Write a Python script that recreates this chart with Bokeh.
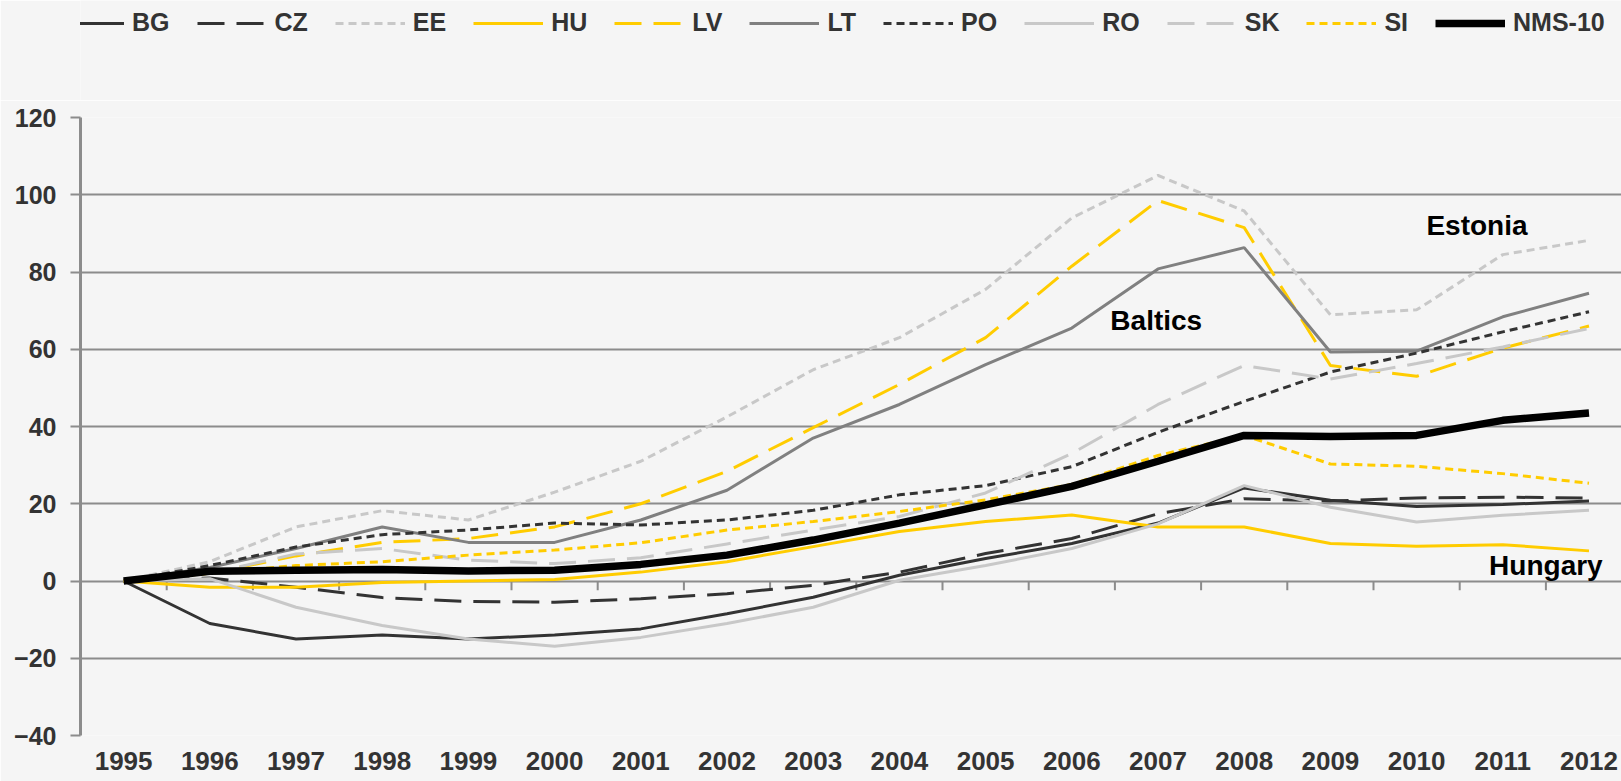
from bokeh.plotting import figure
from bokeh.layouts import column
from bokeh.models import (Range1d, FixedTicker, Legend, LegendItem, Label)
from bokeh.embed import file_html
from bokeh.resources import INLINE

years = list(range(1995, 2013))
BG = [0, -11, -15, -14, -15, -14, -12.4, -8.5, -4.2, 1.5, 5.8, 9.7, 15, 24.1, 20.9, 19.3, 19.8, 20.7]
CZ = [0, 0.8, -1.6, -4.3, -5.3, -5.5, -4.6, -3.3, -1.1, 2.3, 7.1, 11, 17.4, 21.3, 20.7, 21.5, 21.7, 21.5]
EE = [0, 5, 14, 18.2, 15.8, 23, 31, 42.5, 54.7, 63, 75.5, 94, 105, 95.8, 68.9, 70.2, 84.5, 88.2]
HU = [0, -1.6, -1.6, -0.4, 0, 0.4, 2.3, 5, 8.9, 12.8, 15.4, 17.1, 14, 14, 9.7, 9, 9.4, 7.8]
LV = [0, 2, 6.5, 10, 11, 14, 20, 28.4, 39.7, 50.9, 63, 81.5, 98.5, 91.5, 55.8, 53, 60.3, 66]
LT = [0, 3.5, 8.4, 14, 10, 10, 15.8, 23.5, 37, 45.7, 56, 65.5, 80.8, 86.3, 59.3, 59.5, 68.4, 74.5]
PO = [0, 4, 8.8, 12, 13.2, 15, 14.5, 15.8, 18.3, 22.3, 24.7, 29.6, 38.5, 46.5, 54.1, 59, 64.5, 69.7]
RO = [0, 0.6, -6.8, -11.5, -15, -16.9, -14.6, -11, -6.8, 0.2, 4, 8.4, 14.8, 24.7, 19.1, 15.3, 17, 18.3]
SK = [0, 2, 7, 8.4, 5.4, 4.5, 6, 9.6, 13.2, 16.7, 22.8, 33, 45.7, 55.8, 52.3, 56.3, 60.6, 65.4]
SI = [0, 2, 4, 5, 6.7, 8, 9.9, 13.2, 15.4, 18, 21, 25, 32.5, 37.7, 30.3, 29.7, 27.8, 25.3]
NMS10 = [0, 2.5, 2.8, 3, 2.6, 2.8, 4.3, 6.7, 10.6, 15, 19.7, 24.5, 31, 37.7, 37.4, 37.7, 41.6, 43.5]

y_ticks = [-40, -20, 0, 20, 40, 60, 80, 100, 120]
annotations = [("Baltics", 2006.98, 67.5), ("Estonia", 2010.70, 92.1), ("Hungary", 2011.50, 4.0)]

DARK = "#333333"
MID = "#808080"
LIGHT = "#c8c8c8"
YEL = "#ffcc00"
LONG = "27 12"
SHORT = "8 5"
FONT = "Liberation Sans"

series = [
    ("BG", BG, DARK, "solid", 3),
    ("CZ", CZ, DARK, LONG, 3),
    ("EE", EE, LIGHT, SHORT, 3),
    ("HU", HU, YEL, "solid", 3),
    ("LV", LV, YEL, LONG, 3),
    ("LT", LT, MID, "solid", 3),
    ("PO", PO, DARK, SHORT, 3),
    ("RO", RO, LIGHT, "solid", 3),
    ("SK", SK, LIGHT, LONG, 3),
    ("SI", SI, YEL, SHORT, 3),
    ("NMS-10", NMS10, "#000000", "solid", 7.5),
]

BG_COLOR = "#f5f5f5"
W = 1621

# ---- legend strip ----
leg = figure(width=W, height=100, output_backend="svg", toolbar_location=None,
             x_range=Range1d(0, 1), y_range=Range1d(0, 1),
             x_axis_location=None, y_axis_location=None,
             min_border=0, background_fill_color=BG_COLOR, border_fill_color=BG_COLOR,
             outline_line_color=None)
leg.grid.grid_line_color = None
items = []
for name, vals, color, dash, w in series:
    # sample lines kept outside the visible range; only their legend swatches show
    r = leg.line(x=[5, 6], y=[5, 6], line_color=color, line_width=w, line_dash=dash)
    items.append(LegendItem(label=name, renderers=[r]))
legend = Legend(items=items, orientation="horizontal", location=(-26, 63),
                glyph_width=70, glyph_height=20, label_standoff=8, spacing=27,
                padding=0, margin=0, border_line_color=None, background_fill_alpha=0,
                label_text_font=FONT, label_text_font_style="bold",
                label_text_font_size="25px", label_text_color=DARK)
leg.add_layout(legend)

# ---- main chart ----
p = figure(width=W, height=681, output_backend="svg", toolbar_location=None,
           x_range=Range1d(1994.5, 2012.377), y_range=Range1d(-40, 120),
           min_border_left=80, min_border_top=17, min_border_bottom=46, min_border_right=0,
           background_fill_color=BG_COLOR, border_fill_color=BG_COLOR, outline_line_color=None)

p.xgrid.grid_line_color = None
p.ygrid.ticker = FixedTicker(ticks=y_ticks)
p.ygrid.grid_line_color = "#8c8c8c"
p.ygrid.grid_line_width = 2

p.yaxis.ticker = FixedTicker(ticks=y_ticks)
p.yaxis.axis_line_color = "#8c8c8c"
p.yaxis.axis_line_width = 3
p.yaxis.major_tick_line_color = "#8c8c8c"
p.yaxis.major_tick_line_width = 2
p.yaxis.major_tick_out = 10
p.yaxis.major_tick_in = 0
p.yaxis.minor_tick_line_color = None
p.yaxis.major_label_text_font = FONT
p.yaxis.major_label_text_font_style = "bold"
p.yaxis.major_label_text_font_size = "25px"
p.yaxis.major_label_text_color = DARK
p.yaxis.major_label_standoff = 14

p.xaxis.ticker = FixedTicker(ticks=years)
p.xaxis.axis_line_color = None
p.xaxis.major_tick_line_color = None
p.xaxis.major_tick_out = 0
p.xaxis.major_tick_in = 0
p.xaxis.minor_tick_line_color = None
p.xaxis.major_label_text_font = FONT
p.xaxis.major_label_text_font_style = "bold"
p.xaxis.major_label_text_font_size = "26px"
p.xaxis.major_label_text_color = DARK
p.xaxis.major_label_standoff = 16

# category tick marks on the zero line
mids = [y + 0.5 for y in years[:-1]]
p.segment(x0=mids, y0=[0] * len(mids), x1=mids, y1=[-2.4] * len(mids),
          line_color="#8c8c8c", line_width=2)

for name, vals, color, dash, w in series:
    p.line(years, vals, line_color=color, line_width=w, line_dash=dash)

for txt, x, y in annotations:
    p.add_layout(Label(x=x, y=y, text=txt, text_align="center", text_baseline="middle",
                       text_font=FONT, text_font_style="bold",
                       text_font_size="28px", text_color="#000000"))

layout = column(leg, p, spacing=0)
open("out.html", "w").write(file_html(layout, INLINE))
